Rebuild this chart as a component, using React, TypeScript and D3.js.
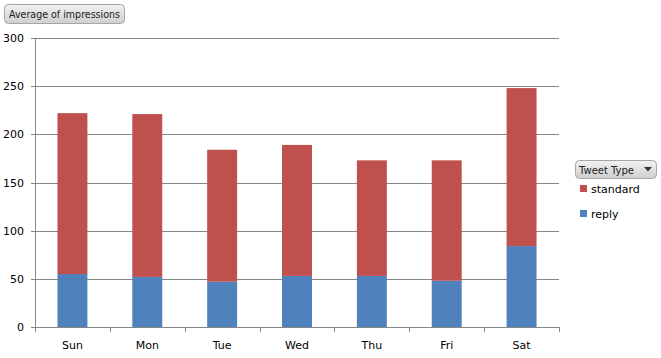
import React from 'react';
import * as d3 from 'd3';

const days = ['Sun', 'Mon', 'Tue', 'Wed', 'Thu', 'Fri', 'Sat'];
const reply = [55, 52, 47, 53, 53, 48, 84];
const standard = [167, 169, 137, 136, 120, 125, 164];
const yTicks = [0, 50, 100, 150, 200, 250, 300];
const seriesNames = ['standard', 'reply'];
const seriesColors = ['#c0504d', '#4f81bd'];

const W = 661;
const H = 358;
const left = 35;
const right = 559;
const top = 38;
const bottom = 327;
const font = 'Tahoma, "DejaVu Sans", Verdana, sans-serif';

function App() {
  const x = d3.scaleBand().domain(days).range([left, right]).paddingInner(0.6).paddingOuter(0.3);
  const band = d3.scaleBand().domain(days).range([left, right]);
  const y = d3.scaleLinear().domain([0, 300]).range([bottom, top]);

  const rows = days.map((d, i) => ({ day: d, reply: reply[i], standard: standard[i] }));
  const stack = d3.stack<any>().keys(['reply', 'standard'])(rows);
  const colorOf: Record<string, string> = { reply: '#4f81bd', standard: '#c0504d' };

  const bounds = days.map(d => band(d)!).concat([right]);

  return (
    <svg width={W} height={H} style={{ position: 'absolute', left: 0, top: 0 }} fontFamily={font}>
      <defs>
        <linearGradient id="btn" x1="0" y1="0" x2="0" y2="1">
          <stop offset="0" stopColor="#f2f2f2" />
          <stop offset="1" stopColor="#cfcfcf" />
        </linearGradient>
      </defs>
      <rect x={0} y={0} width={W} height={H} fill="#fff" />

      {/* title button */}
      <rect x={4.5} y={4.5} width={120} height={19} rx={4} fill="url(#btn)" stroke="#a6a6a6" />
      <text x={9} y={18} fontSize={11} fill="#222" textLength={111} lengthAdjust="spacingAndGlyphs">Average of impressions</text>

      {/* grid */}
      {yTicks.map(t => (
        <g key={t}>
          <line x1={left - 4} x2={right} y1={Math.round(y(t)) + 0.5} y2={Math.round(y(t)) + 0.5} stroke="#878787" />
          <text x={left - 11} y={y(t) + 4} fontSize={11} textAnchor="end" fill="#000">{t}</text>
        </g>
      ))}
      <line x1={left + 0.5} x2={left + 0.5} y1={top} y2={bottom + 5} stroke="#878787" />
      {bounds.map((b, i) => (
        <line key={i} x1={Math.round(b) + 0.5} x2={Math.round(b) + 0.5} y1={bottom} y2={bottom + 5} stroke="#878787" />
      ))}

      {/* bars */}
      {stack.map(s => (
        <g key={s.key} fill={colorOf[s.key]}>
          {s.map((d, i) => (
            <rect key={i} x={x(days[i])} width={x.bandwidth()} y={y(d[1])} height={y(d[0]) - y(d[1])} />
          ))}
        </g>
      ))}

      {days.map(d => (
        <text key={d} x={band(d)! + band.bandwidth() / 2} y={bottom + 22} fontSize={11} textAnchor="middle" fill="#000">{d}</text>
      ))}

      {/* legend */}
      <rect x={575.5} y={160.5} width={81} height={18} rx={4} fill="url(#btn)" stroke="#a6a6a6" />
      <text x={579} y={174} fontSize={11} fill="#222" textLength={55} lengthAdjust="spacingAndGlyphs">Tweet Type</text>
      <path d="M644,167 L652,167 L648,171.5 Z" fill="#333" />
      {seriesNames.map((n, i) => (
        <g key={n}>
          <rect x={580} y={185 + i * 25} width={7} height={7} fill={seriesColors[i]} />
          <text x={591} y={193 + i * 25} fontSize={11} fill="#000">{n}</text>
        </g>
      ))}
    </svg>
  );
}

export default App;
